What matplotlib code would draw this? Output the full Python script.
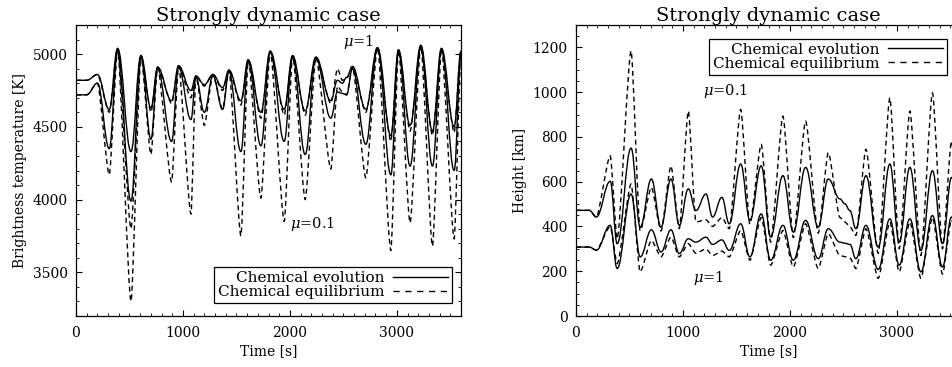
"""Strongly dynamic case: brightness temperature and formation height vs time."""

import matplotlib

matplotlib.use("Agg")
import matplotlib.pyplot as plt
from matplotlib.lines import Line2D
from matplotlib.patches import PathPatch
from matplotlib.path import Path
from matplotlib.ticker import MultipleLocator

INK = "black"

# ---- left panel: brightness temperature [K] at the extrema of the oscillation
t_tb = [0, 100, 200, 311, 389, 514, 607, 701, 763, 894, 959, 1075, 1121, 1200,
        1280, 1371, 1430, 1542, 1610, 1729, 1816, 1947, 2025, 2143, 2243, 2383,
        2445, 2490, 2530, 2585, 2710, 2819, 2944, 3015, 3124, 3224, 3333, 3417,
        3536, 3600]
tb_mu1_evol = [4820, 4820, 4860, 4620, 5040, 4330, 4990, 4630, 4910, 4680, 4920,
               4750, 4850, 4790, 4860, 4770, 4890, 4680, 4960, 4600, 5020, 4620,
               4990, 4610, 4980, 4680, 4820, 4800, 4840, 4915, 4620, 5045, 4440,
               5030, 4510, 5060, 4470, 5040, 4500, 5020]
tb_mu1_equi = [4820, 4820, 4860, 4600, 5040, 3800, 4990, 4600, 4910, 4660, 4920,
               4700, 4850, 4780, 4860, 4750, 4890, 4650, 4960, 4560, 5020, 4580,
               4990, 4580, 4980, 4660, 4900, 4820, 4830, 4915, 4600, 5045, 4400,
               5030, 4470, 5060, 4440, 5040, 4460, 5020]
tb_mu01_evol = [4720, 4720, 4800, 4350, 5020, 3990, 4980, 4415, 4900, 4400, 4910,
                4550, 4840, 4600, 4850, 4620, 4880, 4330, 4950, 4370, 5010, 4400,
                4980, 4310, 4970, 4560, 4740, 4730, 4720, 4900, 4380, 5040, 4170,
                5020, 4230, 5050, 4230, 5030, 4200, 5000]
tb_mu01_equi = [4720, 4720, 4800, 4170, 5030, 3300, 4990, 4310, 4910, 4120, 4920,
                3900, 4850, 4510, 4860, 4620, 4890, 3750, 4960, 4010, 5020, 3850,
                4990, 4000, 4980, 4210, 4780, 4740, 4720, 4910, 4150, 5045, 3650,
                5030, 3840, 5060, 3680, 5040, 3730, 5020]

# ---- right panel: height [km]
t_h = [0, 125, 190, 320, 385, 515, 600, 705, 795, 888, 966, 1050, 1121, 1215,
       1277, 1364, 1433, 1540, 1626, 1732, 1820, 1935, 2032, 2147, 2265, 2359,
       2468, 2514, 2561, 2617, 2711, 2826, 2935, 3022, 3122, 3225, 3333, 3427,
       3511, 3600]
h_mu01_evol = [472, 472, 442, 602, 323, 750, 397, 612, 397, 612, 405, 568, 471,
               545, 442, 530, 412, 679, 427, 671, 353, 627, 375, 664, 397, 612,
               523, 501, 471, 390, 627, 308, 679, 330, 664, 293, 649, 323, 619, 420]
h_mu01_equi = [472, 472, 442, 716, 345, 1185, 380, 575, 380, 671, 390, 916, 420,
               430, 400, 440, 390, 923, 410, 767, 330, 893, 350, 871, 370, 730,
               440, 420, 400, 360, 745, 280, 975, 300, 916, 270, 997, 300, 782, 380]
h_mu1_evol = [308, 308, 294, 405, 212, 545, 264, 385, 286, 385, 279, 345, 330,
              352, 320, 340, 293, 412, 264, 456, 249, 405, 249, 427, 256, 390,
              330, 325, 320, 256, 405, 208, 434, 227, 434, 197, 449, 219, 442, 300]
h_mu1_equi = [308, 308, 294, 400, 234, 590, 197, 338, 264, 353, 264, 323, 280,
              300, 270, 290, 264, 382, 249, 440, 227, 382, 219, 412, 212, 368,
              270, 265, 260, 212, 390, 168, 420, 197, 420, 168, 440, 187, 430, 250]

plt.rcParams.update({
    "font.family": "DejaVu Serif",
    "mathtext.fontset": "dejavuserif",
    "font.size": 10,
    "axes.linewidth": 0.9,
    "lines.scale_dashes": False,
    "xtick.direction": "in",
    "ytick.direction": "in",
    "xtick.top": True,
    "ytick.right": True,
    "xtick.major.size": 4.5,
    "ytick.major.size": 4.5,
    "xtick.minor.size": 2.2,
    "ytick.minor.size": 2.2,
    "xtick.major.pad": 7,
    "ytick.major.pad": 6,
})

LW = 1.0
DASH = (0, (3.6, 2.6))


def smooth_curve(ax, t, v, dashed=False, k=0.4):
    """Cubic segments between the read extrema, flat at each extremum."""
    verts = [(t[0], v[0])]
    codes = [Path.MOVETO]
    for i in range(1, len(t)):
        dt = t[i] - t[i - 1]
        verts += [(t[i - 1] + k * dt, v[i - 1]), (t[i] - k * dt, v[i]), (t[i], v[i])]
        codes += [Path.CURVE4] * 3
    patch = PathPatch(Path(verts, codes), fill=False, edgecolor=INK, lw=LW,
                      ls=DASH if dashed else "-", joinstyle="round", capstyle="butt")
    ax.add_patch(patch)


def style_axes(ax, ylabel, ymajor, yminor):
    ax.set_xlim(0, 3600)
    ax.xaxis.set_major_locator(MultipleLocator(1000))
    ax.xaxis.set_minor_locator(MultipleLocator(100))
    ax.yaxis.set_major_locator(MultipleLocator(ymajor))
    ax.yaxis.set_minor_locator(MultipleLocator(yminor))
    ax.tick_params(which="both", top=True, right=True, labelsize=10)
    ax.set_xlabel("Time [s]", fontsize=10, labelpad=3)
    ax.set_ylabel(ylabel, fontsize=10, labelpad=4)
    ax.set_title("Strongly dynamic case", fontsize=14, pad=3)


fig = plt.figure(figsize=(9.52, 3.67), dpi=100)
ax1 = fig.add_axes([76 / 952, 51 / 367, 385 / 952, 291 / 367])
ax2 = fig.add_axes([576 / 952, 51 / 367, 385 / 952, 291 / 367])

# left: brightness temperature
smooth_curve(ax1, t_tb, tb_mu1_evol)
smooth_curve(ax1, t_tb, tb_mu1_equi, dashed=True, k=0.22)
smooth_curve(ax1, t_tb, tb_mu01_evol)
smooth_curve(ax1, t_tb, tb_mu01_equi, dashed=True, k=0.22)
ax1.set_ylim(3200, 5200)
style_axes(ax1, "Brightness temperature [K]", 500, 100)
ax1.text(2495, 5083, r"$\mu$=1", fontsize=10.5, va="center")
ax1.text(2000, 3830, r"$\mu$=0.1", fontsize=10.5, va="center")

# right: height
smooth_curve(ax2, t_h, h_mu01_evol)
smooth_curve(ax2, t_h, h_mu01_equi, dashed=True, k=0.22)
smooth_curve(ax2, t_h, h_mu1_evol)
smooth_curve(ax2, t_h, h_mu1_equi, dashed=True, k=0.22)
ax2.set_ylim(0, 1300)
style_axes(ax2, "Height [km]", 200, 50)
ax2.text(1187, 1004, r"$\mu$=0.1", fontsize=10.5, va="center")
ax2.text(1093, 169, r"$\mu$=1", fontsize=10.5, va="center")

handles = [Line2D([], [], color=INK, lw=LW),
           Line2D([], [], color=INK, lw=LW, ls=(0, (4.5, 4.0)))]
labels = ["Chemical evolution", "Chemical equilibrium"]
legend_kw = dict(markerfirst=False, fancybox=False, framealpha=1, edgecolor=INK,
                 fontsize=11, labelspacing=0.0, borderpad=0.25,
                 handlelength=3.6, handletextpad=0.6, borderaxespad=0)
leg1 = ax1.legend(handles, labels, loc="lower right",
                  bbox_to_anchor=(0.977, 0.045), **legend_kw)
leg2 = ax2.legend(handles, labels, loc="upper right",
                  bbox_to_anchor=(0.964, 0.952), **legend_kw)
for leg in (leg1, leg2):
    leg.get_frame().set_linewidth(0.9)
    for txt in leg.get_texts():
        txt.set_ha("right")

fig.savefig("out.png", dpi=100)
